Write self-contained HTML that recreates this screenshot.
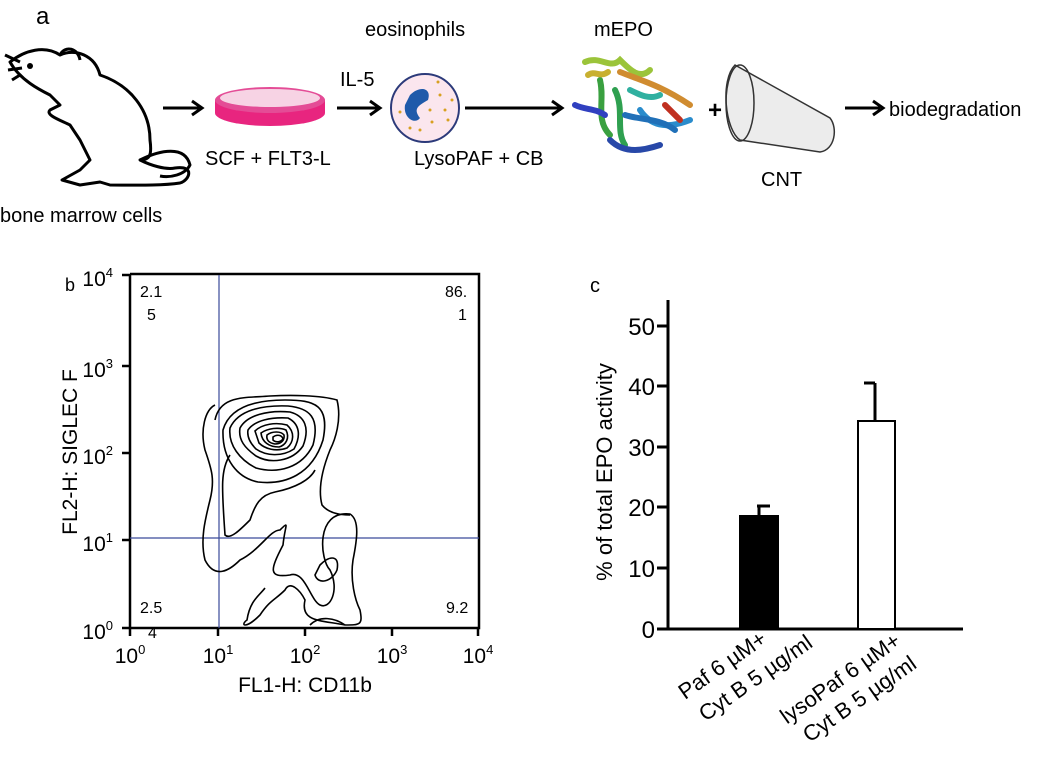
<!DOCTYPE html>
<html><head><meta charset="utf-8"><style>
body{margin:0;background:#fff}
svg{display:block;font-family:"Liberation Sans",sans-serif}
</style></head><body>
<svg width="1050" height="760" viewBox="0 0 1050 760">
<g font-size="20" fill="#000">
<text x="36" y="24" font-size="24">a</text>
<text x="365" y="36">eosinophils</text>
<text x="340" y="86">IL-5</text>
<text x="205" y="165">SCF + FLT3-L</text>
<text x="414" y="165">LysoPAF + CB</text>
<text x="594" y="36">mEPO</text>
<text x="761" y="186">CNT</text>
<text x="889" y="116">biodegradation</text>
<text x="0" y="222">bone marrow cells</text>
</g>
<!-- mouse -->
<g fill="none" stroke="#000" stroke-width="3" stroke-linejoin="round">
<path d="M10,62 C25,50 45,45 60,55 C75,48 95,55 100,75 C130,85 150,110 150,140 C152,155 150,160 140,160 C150,165 165,170 175,168 C195,165 190,180 180,183 C160,186 130,185 110,185 L100,182 L80,185 L62,180 L80,170 L90,160 L80,140 L70,125 C60,120 45,115 50,110 L60,105 L50,95 C40,90 20,80 10,62 Z"/>
<path d="M140,160 C160,150 185,145 190,165 C185,175 170,178 160,176"/>
<path d="M60,55 C65,45 78,48 80,60"/>
<path d="M5,55 L20,62 M8,70 L22,68 M12,80 L20,75"/>
</g>
<circle cx="30" cy="66" r="3"/>
<!-- arrows -->
<g stroke="#000" stroke-width="3" fill="none">
<path d="M163,108 H200 M192,101 L202,108 L192,115"/>
<path d="M337,108 H378 M370,101 L380,108 L370,115"/>
<path d="M465,108 H560 M552,101 L562,108 L552,115"/>
<path d="M845,108 H880 M873,101 L883,108 L873,115"/>
</g>
<text x="708" y="118" font-size="24" font-weight="bold">+</text>
<!-- dish -->
<ellipse cx="270" cy="113" rx="55" ry="13" fill="#e8257f"/>
<rect x="215" y="100" width="110" height="13" fill="#e8257f"/>
<ellipse cx="270" cy="100" rx="55" ry="13" fill="#e44c96"/>
<ellipse cx="270" cy="98" rx="50" ry="9" fill="#f7d3e4"/>
<!-- cell -->
<circle cx="425" cy="108" r="34" fill="#fbe6ee" stroke="#2c3a7a" stroke-width="2"/>
<path d="M410,95 C420,85 432,88 428,100 C420,105 412,108 420,118 C415,125 403,118 405,105 Z" fill="#1f5aaa"/>
<g fill="#d8a020">
<circle cx="440" cy="95" r="1.5"/><circle cx="445" cy="110" r="1.5"/><circle cx="432" cy="122" r="1.5"/><circle cx="420" cy="130" r="1.5"/><circle cx="448" cy="120" r="1.5"/><circle cx="400" cy="112" r="1.5"/><circle cx="438" cy="82" r="1.5"/><circle cx="452" cy="100" r="1.5"/><circle cx="430" cy="110" r="1.5"/><circle cx="410" cy="128" r="1.5"/>
</g>
<!-- protein -->
<g fill="none" stroke-width="6" stroke-linecap="round">
<path d="M585,62 C600,55 610,70 620,60 C630,70 640,80 650,70" stroke="#9bc43a"/>
<path d="M620,72 C640,80 660,85 690,105" stroke="#d08c30"/>
<path d="M600,80 C605,100 595,120 610,135" stroke="#3aa040"/>
<path d="M615,90 C625,110 615,130 625,145" stroke="#2fa050"/>
<path d="M640,110 C650,125 665,130 690,120" stroke="#2a8ccc"/>
<path d="M625,115 C640,120 660,118 675,130" stroke="#2070b8"/>
<path d="M610,140 C625,155 645,150 660,145" stroke="#2848a8"/>
<path d="M575,105 C585,110 595,108 605,115" stroke="#3040c0"/>
<path d="M665,105 C670,110 675,115 680,120" stroke="#c03020"/>
<path d="M630,90 C640,95 650,100 660,95" stroke="#30b0a0"/>
<path d="M588,75 C595,70 600,78 608,72" stroke="#c8b030"/>
</g>
<!-- CNT -->
<path d="M735,65 L830,118 C838,128 835,150 820,152 L740,140 C725,130 720,80 735,65 Z" fill="#ececec" stroke="#333" stroke-width="1.5"/>
<ellipse cx="740" cy="103" rx="14" ry="38" fill="none" stroke="#333" stroke-width="1.5"/>
<!-- panel b -->
<text x="65" y="291" font-size="18">b</text>
<g fill="none" stroke="#000">
<path d="M130,274 V628 H479 V274 H130" stroke-width="2.5"/>
<path d="M122,275 H130 M122,366 H130 M122,453 H130 M122,540 H130 M122,628 H130 M130,628 V636 M218,628 V636 M305,628 V636 M392,628 V636 M478,628 V636" stroke-width="2.5"/>
</g>
<g stroke="#3a4a9a" stroke-width="1.2">
<line x1="219" y1="275" x2="219" y2="628"/><line x1="130" y1="538" x2="479" y2="538"/>
</g>
<g fill="none" stroke="#000" stroke-width="1.6">
<path d="M215,405 C205,410 200,430 205,450 C212,470 215,480 210,500 C205,520 200,540 205,560 C215,580 230,570 240,560 C260,550 270,530 280,530 C290,520 285,525 283,545 C270,570 268,578 290,575 C305,570 310,600 320,605 C330,610 340,590 330,570 C320,560 315,510 350,514 C360,520 357,540 353,560 C350,580 355,600 360,610 C363,625 360,625 345,625 C320,620 300,622 305,600 C300,590 290,580 285,590 C275,600 270,600 260,615 C245,630 240,625 247,620 C250,600 260,595 265,588" />
<path d="M215,420 C220,395 245,398 270,396 C290,395 320,395 337,400 C342,420 335,440 330,450 C322,470 318,490 322,505 C330,515 345,515 350,515"/>
<path d="M223,430 C230,405 260,400 285,400 C315,400 330,405 323,440 C312,475 285,485 258,482 C238,478 222,460 223,430 Z"/>
<path d="M230,428 C238,410 262,405 288,406 C310,408 320,418 313,445 C302,468 278,474 256,468 C240,460 228,445 230,428 Z"/>
<path d="M240,428 C247,415 268,410 290,412 C305,416 310,428 303,446 C292,462 270,464 256,456 C245,448 238,440 240,428 Z"/>
<path d="M248,430 C255,420 272,417 288,418 C300,424 301,436 294,449 C282,457 266,456 256,449 C249,442 247,436 248,430 Z"/>
<path d="M255,431 C262,424 276,422 287,425 C295,432 294,442 287,448 C276,452 265,449 259,443 Z"/>
<path d="M261,433 C268,428 279,427 286,430 C290,438 286,445 279,447 C269,447 262,442 261,433 Z"/>
<path d="M267,435 C272,431 281,431 284,435 C285,441 280,444 275,444 C269,443 266,440 267,435 Z"/>
<path d="M273,437 C277,434 282,435 283,439 C281,442 276,443 273,440 Z"/>
<path d="M320,565 C330,555 340,555 337,570 C332,582 318,585 315,575 Z"/>
<path d="M310,625 C320,615 335,618 345,625"/>
<path d="M230,455 C220,470 222,490 225,535 C230,540 240,530 250,520 C255,505 260,495 275,492 C295,488 310,480 315,470"/>
</g>
<g font-size="16">
<text x="140" y="297">2.1</text><text x="147" y="320">5</text>
<text x="445" y="297">86.</text><text x="458" y="320">1</text>
<text x="140" y="613">2.5</text><text x="148" y="638">4</text>
<text x="446" y="613">9.2</text>
</g>
<g font-size="21" text-anchor="end">
<text x="113" y="286">10<tspan font-size="13" dy="-9">4</tspan></text>
<text x="113" y="377">10<tspan font-size="13" dy="-9">3</tspan></text>
<text x="113" y="464">10<tspan font-size="13" dy="-9">2</tspan></text>
<text x="113" y="551">10<tspan font-size="13" dy="-9">1</tspan></text>
<text x="113" y="639">10<tspan font-size="13" dy="-9">0</tspan></text>
</g>
<g font-size="21" text-anchor="middle">
<text x="130" y="663">10<tspan font-size="13" dy="-9">0</tspan></text>
<text x="218" y="663">10<tspan font-size="13" dy="-9">1</tspan></text>
<text x="305" y="663">10<tspan font-size="13" dy="-9">2</tspan></text>
<text x="392" y="663">10<tspan font-size="13" dy="-9">3</tspan></text>
<text x="478" y="663">10<tspan font-size="13" dy="-9">4</tspan></text>
<text x="305" y="692">FL1-H: CD11b</text>
<text transform="translate(77,452) rotate(-90)">FL2-H: SIGLEC F</text>
</g>
<!-- panel c -->
<text x="590" y="292" font-size="20">c</text>
<g stroke="#000" stroke-width="3" fill="none">
<path d="M668,300 V629 H963"/>
<path d="M657,326 H668 M657,386 H668 M657,447 H668 M657,507 H668 M657,568 H668 M657,629 H668"/>
</g>
<g font-size="24" text-anchor="end">
<text x="655" y="335">50</text><text x="655" y="395">40</text><text x="655" y="456">30</text><text x="655" y="516">20</text><text x="655" y="577">10</text><text x="655" y="638">0</text>
</g>
<text transform="translate(612,472) rotate(-90)" font-size="22" text-anchor="middle">% of total EPO activity</text>
<rect x="739" y="515" width="40" height="114" fill="#000"/>
<path d="M759,515 V506 M757,506 H770" stroke="#000" stroke-width="3"/>
<rect x="858" y="421" width="37" height="208" fill="#fff" stroke="#000" stroke-width="2"/>
<path d="M875,421 V383 M864,383 H875" stroke="#000" stroke-width="3"/>
<g font-size="22" text-anchor="end">
<text transform="translate(768,642) rotate(-35)">Paf 6 µM+</text>
<text transform="translate(814,646) rotate(-35)">Cyt B 5 µg/ml</text>
<text transform="translate(902,644) rotate(-35)">lysoPaf 6 µM+</text>
<text transform="translate(918,667) rotate(-35)">Cyt B 5 µg/ml</text>
</g>
</svg>
</body></html>
